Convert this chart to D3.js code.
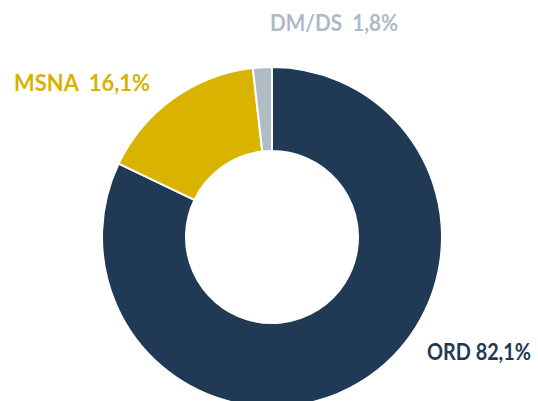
<!DOCTYPE html>
<html>
<head>
<meta charset="utf-8">
<script src="https://cdn.jsdelivr.net/npm/d3@7"></script>
<style>
  body { margin: 0; background: #fff; }
  svg { display: block; }
  .lbl { font-family: Lato, "Open Sans", sans-serif; font-weight: bold; }
</style>
</head>
<body>
<div id="chart"></div>
<script>
"use strict";

// slice data
var categories = ["ORD", "MSNA", "DM/DS"];
var values = [82.1, 16.1, 1.8];
var labels = ["ORD 82,1%", "MSNA\u00a0\u00a016,1%", "DM/DS\u00a0\u00a01,8%"];
var colors = ["#203a56", "#dab300", "#afbcc6"];
var textColors = ["#203a56", "#d9b100", "#aebac5"];

var width = 538, height = 401;
var cx = 272, cy = 237;
var outerR = 170, innerR = 86;

var svg = d3.select("#chart")
  .append("svg")
  .attr("width", width)
  .attr("height", height);

var data = categories.map(function (c, i) {
  return { name: c, value: values[i], i: i };
});

var pie = d3.pie()
  .sort(null)
  .value(function (d) { return d.value; });

var arc = d3.arc()
  .innerRadius(innerR)
  .outerRadius(outerR);

var g = svg.append("g")
  .attr("transform", "translate(" + cx + "," + cy + ")");

g.selectAll("path")
  .data(pie(data))
  .enter().append("path")
  .attr("d", arc)
  .attr("fill", function (d) { return colors[d.data.i]; })
  .attr("stroke", "#fff")
  .attr("stroke-width", 2);

var labelPos = [
  { x: 427, y: 360, w: 104 },
  { x: 14, y: 91, w: 136 },
  { x: 270, y: 31, w: 128 }
];

svg.selectAll("text.lbl")
  .data(data)
  .enter().append("text")
  .attr("class", "lbl")
  .attr("x", function (d) { return labelPos[d.i].x; })
  .attr("y", function (d) { return labelPos[d.i].y; })
  .attr("textLength", function (d) { return labelPos[d.i].w; })
  .attr("lengthAdjust", "spacingAndGlyphs")
  .attr("font-size", 22)
  .attr("fill", function (d) { return textColors[d.i]; })
  .text(function (d) { return labels[d.i]; });
</script>
</body>
</html>
